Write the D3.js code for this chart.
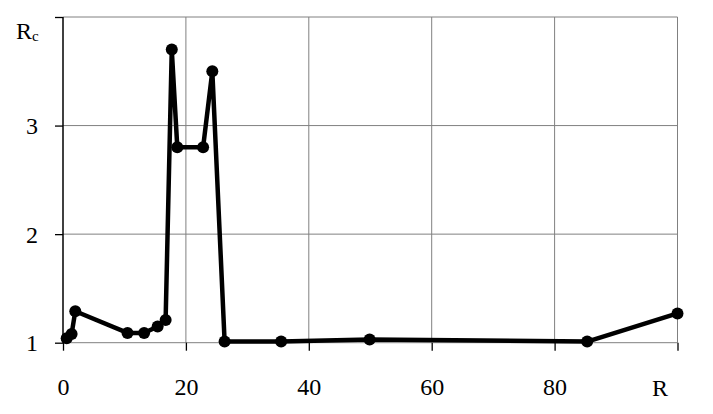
<!DOCTYPE html>
<html><head><meta charset="utf-8">
<script src="https://cdn.jsdelivr.net/npm/d3@7"></script>
<style>html,body{margin:0;padding:0;background:#fff;}svg{display:block;}</style>
</head><body>
<svg id="chart" width="713" height="414"></svg>
<script>
const xValues = [0.6, 1.4, 2.0, 10.5, 13.2, 15.4, 16.7, 17.7, 18.6, 22.8, 24.3, 26.3, 35.5, 49.9, 85.3, 100];
const yValues = [1.04, 1.08, 1.29, 1.09, 1.09, 1.15, 1.21, 3.70, 2.80, 2.80, 3.50, 1.01, 1.01, 1.03, 1.01, 1.27];
const xTicks = [0, 20, 40, 60, 80, 100];
const xTickLabels = ["0", "20", "40", "60", "80", ""];
const yTicks = [1, 2, 3, 4];
const yTickLabels = ["1", "2", "3", ""];

const svg = d3.select("#chart");
const x = d3.scaleLinear().domain([0, 100]).range([63, 677.5]);
const y = d3.scaleLinear().domain([1, 4]).range([342.7, 17]);
const font = "'Liberation Serif','Times New Roman',Times,serif";

// grid
svg.append("g").selectAll("line").data(xTicks.slice(1)).join("line")
  .attr("x1", d => x(d)).attr("x2", d => x(d)).attr("y1", y(1)).attr("y2", y(4))
  .attr("stroke", "#808080").attr("stroke-width", 1);
svg.append("g").selectAll("line").data(yTicks).join("line")
  .attr("x1", x(0)).attr("x2", x(100)).attr("y1", d => y(d)).attr("y2", d => y(d))
  .attr("stroke", "#808080").attr("stroke-width", 1);

// axes
const xAxis = d3.axisBottom(x).tickValues(xTicks).tickSize(8).tickFormat((d, i) => xTickLabels[i]);
const gx = svg.append("g").attr("transform", `translate(0,${y(1)})`).call(xAxis);
gx.select(".domain").remove();
gx.selectAll(".tick line").attr("stroke", "#000").attr("stroke-width", 1.3);
gx.selectAll(".tick text").attr("font-family", font).attr("font-size", 24).attr("fill", "#000").attr("dy", 0).attr("y", 52);

const yAxis = d3.axisLeft(y).tickValues(yTicks).tickSize(8).tickFormat((d, i) => yTickLabels[i]);
const gy = svg.append("g").attr("transform", `translate(${x(0)},0)`).call(yAxis);
gy.select(".domain").attr("d", `M0,${y(4)}V${y(1)}`).attr("stroke", "#000").attr("stroke-width", 1.5);
gy.selectAll(".tick line").attr("stroke", "#000").attr("stroke-width", 1.3);
gy.selectAll(".tick text").attr("font-family", font).attr("font-size", 24).attr("fill", "#000").attr("x", -25).attr("dy", "0.33em");

// axis labels
const rc = svg.append("text").attr("x", 16).attr("y", 39).attr("font-family", font).attr("font-size", 24).attr("fill", "#000");
rc.append("tspan").text("R");
rc.append("tspan").attr("font-size", 15).attr("dy", 2).text("c");
svg.append("text").attr("x", 652).attr("y", 396).attr("font-family", font).attr("font-size", 24).attr("fill", "#000").text("R");

// data
const pts = xValues.map((v, i) => [v, yValues[i]]);
svg.append("path").datum(pts)
  .attr("d", d3.line().x(d => x(d[0])).y(d => y(d[1])))
  .attr("fill", "none").attr("stroke", "#000").attr("stroke-width", 4.5).attr("stroke-linejoin", "round");
svg.append("g").selectAll("circle").data(pts).join("circle")
  .attr("cx", d => x(d[0])).attr("cy", d => y(d[1])).attr("r", 6).attr("fill", "#000");
</script>
</body></html>
